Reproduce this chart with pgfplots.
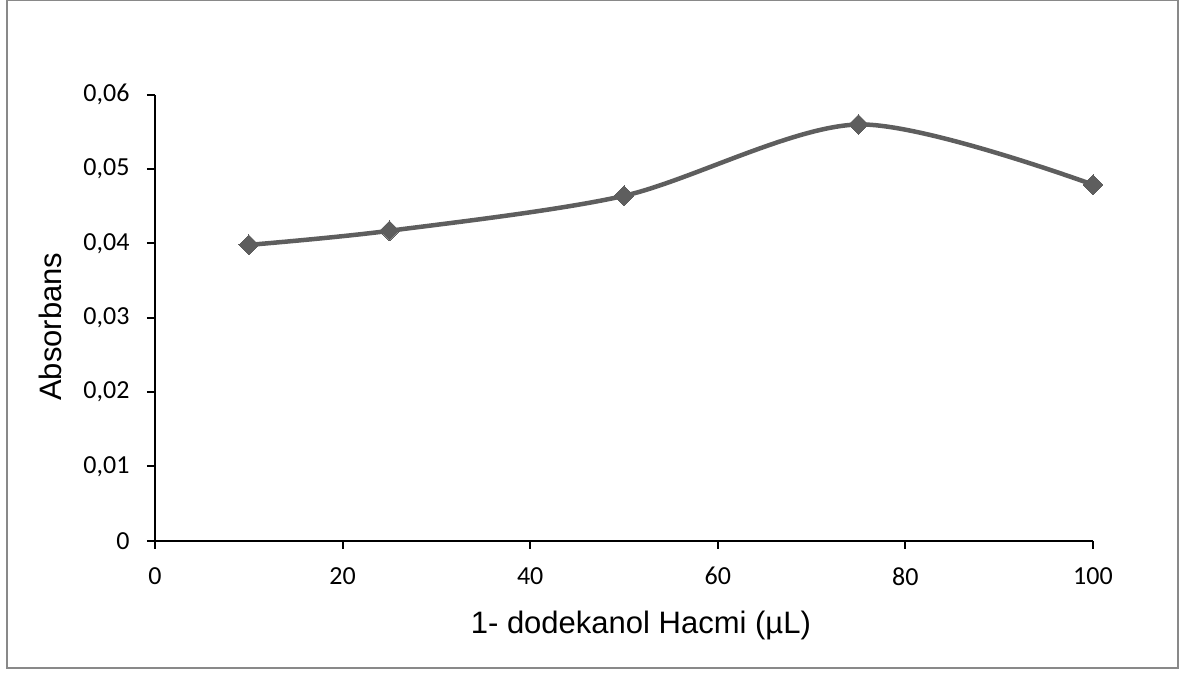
\documentclass[border=0pt]{standalone}
\usepackage{pgfplots}
\pgfplotsset{compat=1.18}
\usepackage{fontspec}
\setmainfont{Carlito}
\newfontfamily\arialfont{Liberation Sans}
\definecolor{linegray}{HTML}{5E5E5E}
\definecolor{framegray}{HTML}{898989}

\begin{document}
\begin{tikzpicture}
  \begin{axis}[
    name=ax,
    scale only axis,
    width=938pt, height=446pt,
    xmin=0, xmax=100, ymin=0, ymax=0.06,
    axis x line*=bottom, axis y line*=left,
    axis line style={line width=2pt, black},
    xtick={0,20,40,60,80,100},
    ytick={0,0.01,0.02,0.03,0.04,0.05,0.06},
    scaled y ticks=false,
    tick align=outside,
    major tick length=8pt,
    tick style={line width=2pt, black},
    yticklabel style={/pgf/number format/fixed, /pgf/number format/precision=2,
      /pgf/number format/use comma},
    /pgf/number format/assume math mode=true,
    tick label style={font=\fontsize{26}{30}\selectfont},
    x tick label style={yshift=-15pt},
    y tick label style={xshift=-14pt},
    xlabel={1- dodekanol Hacmi (µL)},
    ylabel={Absorbans},
    label style={font=\arialfont\fontsize{31}{36}\selectfont},
    xlabel style={at={(axis description cs:0.518,0)}, anchor=base, yshift=-93pt},
    ylabel style={at={(axis description cs:0,0.48)}, anchor=base, yshift=93pt},
  ]
    \addplot[linegray, line width=4.5pt, smooth, tension=0.5,
      mark=square*, mark size=7pt, mark options={rotate=45, fill=linegray, draw=linegray, line width=0pt}]
      coordinates {(10,0.0398) (25,0.0417) (50,0.0464) (75,0.0560) (100,0.0479)};
  \end{axis}
  \draw[framegray, line width=1.5pt]
    ([xshift=-148pt,yshift=-127pt]ax.south west) rectangle ([xshift=85pt,yshift=94pt]ax.north east);
  \path[use as bounding box]
    ([xshift=-155pt,yshift=-133pt]ax.south west) rectangle ([xshift=94pt,yshift=94pt]ax.north east);
\end{tikzpicture}
\end{document}
